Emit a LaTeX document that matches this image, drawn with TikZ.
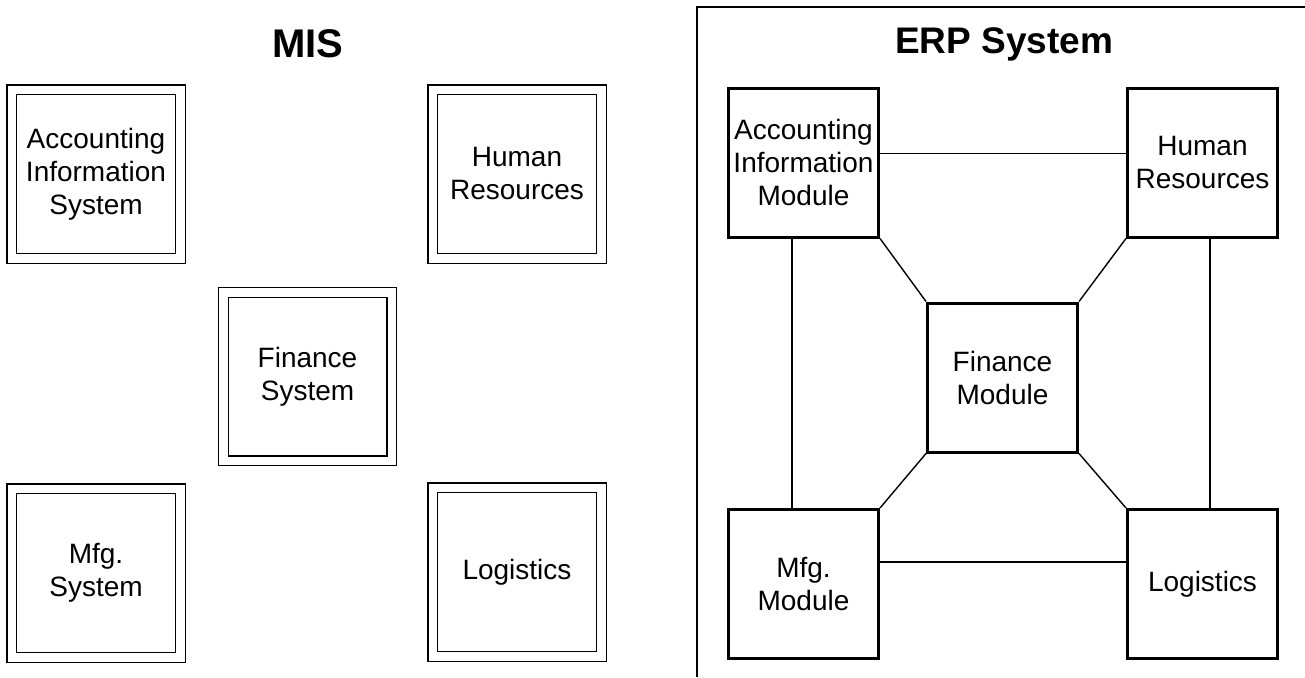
\documentclass[tikz,border=0pt]{standalone}
\usepackage{fontspec}
\setmainfont{Liberation Sans}
\usetikzlibrary{calc}
\tikzset{
  lbl/.style={align=center, inner sep=0pt, font=\fontsize{28}{33}\selectfont},
  misbox/.style={lbl, draw, line width=1.3pt, double, double distance=8.5pt, minimum size=168.5pt},
  erpbox/.style={lbl, draw, line width=3pt, minimum width=150pt, minimum height=149pt},
  conn/.style={line width=1.4pt},
  frame/.style={line width=1.5pt},
  ttl/.style={inner sep=0pt, font=\bfseries\fontsize{40}{44}\selectfont}
}
\begin{document}
\begin{tikzpicture}[x=1pt, y=-1pt]
\useasboundingbox (0,0) rectangle (1305,677);
% MIS side
\node[ttl] (mist) at (308,44) {MIS};
\node[misbox] (ma) at (96,174) {Accounting\\Information\\System};
\node[misbox] (mh) at (517,174) {Human\\Resources};
\node[misbox] (mf) at (307.5,376.5) {Finance\\System};
\node[misbox] (mm) at (96,573) {Mfg.\\System};
\node[misbox] (ml) at (517,572) {Logistics};
% ERP side
\draw[frame] (697,677) -- (697,7) -- (1305,7);
\node[ttl, font=\bfseries\fontsize{37}{42}\selectfont] (erpt) at (1004,44) {ERP System};
\node[erpbox] (ea) at (803.5,162.5) {Accounting\\Information\\Module};
\node[erpbox] (eh) at (1202.5,162.5) {Human\\Resources};
\node[erpbox] (ef) at (1002.5,377.5) {Finance\\Module};
\node[erpbox] (em) at (803.5,584) {Mfg.\\Module};
\node[erpbox] (el) at (1202.5,584) {Logistics};
% connectors
\draw[conn] ($(ea.north east)!0.44!(ea.south east)$) -- ($(eh.north west)!0.44!(eh.south west)$);
\draw[conn] ($(ea.south west)!0.425!(ea.south east)$) -- ($(em.north west)!0.425!(em.north east)$);
\draw[conn] ($(eh.south west)!0.55!(eh.south east)$) -- ($(el.north west)!0.55!(el.north east)$);
\draw[conn] ($(em.north east)!0.355!(em.south east)$) -- ($(el.north west)!0.355!(el.south west)$);
\draw[conn] (ea.south east) -- (ef.north west);
\draw[conn] (eh.south west) -- (ef.north east);
\draw[conn] (em.north east) -- (ef.south west);
\draw[conn] (el.north west) -- (ef.south east);
\end{tikzpicture}
\end{document}
